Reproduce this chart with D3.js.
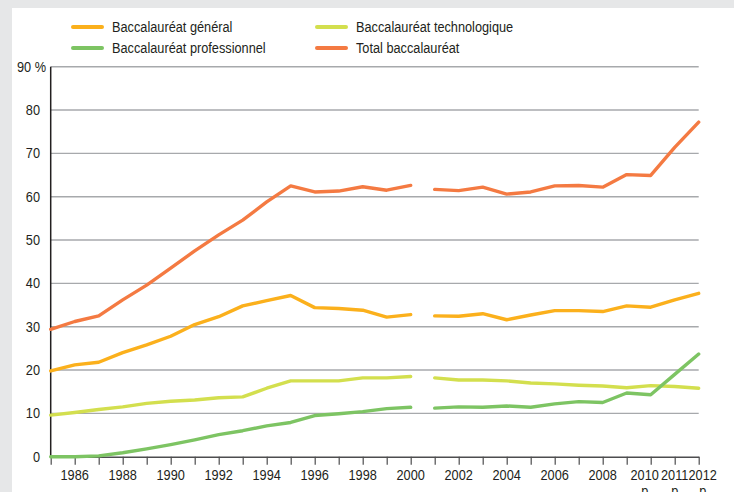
<!DOCTYPE html>
<html>
<head>
<meta charset="utf-8">
<script src="https://cdn.jsdelivr.net/npm/d3@7"></script>
<style>
  html, body { margin: 0; padding: 0; background: #e6e7e8; }
  svg { display: block; }
  text { font-family: 'Liberation Sans', Arial, sans-serif; font-size: 15px; fill: #231f20; }
</style>
</head>
<body>
<div id="chart"></div>
<script>
const years = d3.range(1985, 2013);
const breakAfter = 2000;

// taux d'accès au baccalauréat, en %
const general = [19.8, 21.2, 21.8, 24.0, 25.8, 27.8, 30.5, 32.3, 34.8, 36.0, 37.2, 34.4, 34.2, 33.8,
  32.2, 32.8, 32.5, 32.4, 33.0, 31.6, 32.7, 33.7, 33.7, 33.5, 34.8, 34.5, 36.2, 37.7];
const techno = [9.6, 10.2, 10.9, 11.5, 12.3, 12.8, 13.1, 13.6, 13.8, 15.8, 17.5, 17.5, 17.5, 18.2,
  18.2, 18.5, 18.2, 17.7, 17.7, 17.5, 17.0, 16.8, 16.5, 16.3, 15.9, 16.4, 16.2, 15.8];
const pro = [0.0, 0.0, 0.2, 0.9, 1.8, 2.8, 3.9, 5.1, 6.0, 7.1, 7.9, 9.5, 9.9, 10.4,
  11.1, 11.4, 11.2, 11.5, 11.4, 11.7, 11.4, 12.2, 12.7, 12.5, 14.7, 14.3, 19.0, 23.7];
const total = [29.4, 31.2, 32.5, 36.2, 39.6, 43.5, 47.5, 51.2, 54.6, 58.8, 62.5, 61.1, 61.3, 62.3,
  61.5, 62.6, 61.7, 61.4, 62.2, 60.6, 61.1, 62.5, 62.6, 62.2, 65.1, 64.9, 71.4, 77.2];

const yTicks = [0, 10, 20, 30, 40, 50, 60, 70, 80, 90];
const xLabels = [1986, 1988, 1990, 1992, 1994, 1996, 1998, 2000, 2002, 2004, 2006, 2008, 2010, 2011, 2012];
const provisional = [2010, 2011, 2012];

const series = [
  {name: 'Baccalauréat général', values: general, color: '#fbb01c'},
  {name: 'Baccalauréat technologique', values: techno, color: '#d3df4e'},
  {name: 'Baccalauréat professionnel', values: pro, color: '#7dc463'},
  {name: 'Total baccalauréat', values: total, color: '#f47a42'}
];

const width = 734;
const height = 492;
const narrow = 0.85; // the original uses a condensed face

let svg = d3.select('#chart').append('svg')
  .attr('width', width)
  .attr('height', height)

// white panel
svg.append('rect')
  .attr('x', 12)
  .attr('y', 8)
  .attr('width', width - 12)
  .attr('height', height - 8)
  .attr('fill', '#fff')

let x = d3.scaleLinear().domain([1985, 2012]).range([50.7, 698.7]);
let y = d3.scaleLinear().domain([0, 90]).range([456.7, 66.7]);

let place = (px, py) => `translate(${px},${py}) scale(${narrow},1)`;

// gridlines
svg.append('g').selectAll('line').data(yTicks.filter(d => d > 0))
  .enter().append('line')
    .attr('x1', x(1985))
    .attr('x2', x(2012))
    .attr('y1', d => y(d))
    .attr('y2', d => y(d))
    .attr('stroke', '#a7a9ac')
    .attr('stroke-width', 1.4)

// y labels
svg.append('g').selectAll('text').data(yTicks)
  .enter().append('text')
    .attr('transform', d => place(d === 90 ? 46 : 40, y(d) + 5))
    .attr('text-anchor', 'end')
    .text(d => d === 90 ? '90 %' : d)

// x axis
let xAxis = svg.append('g')
  .attr('transform', `translate(0,${y(0)})`)
  .call(d3.axisBottom(x).tickValues(years).tickSize(8).tickSizeOuter(0).tickFormat(''))

xAxis.select('.domain').attr('stroke', '#4d4d4f').attr('stroke-width', 1.4)
xAxis.selectAll('.tick line').attr('stroke', '#4d4d4f').attr('stroke-width', 1.2)

let nudge = d => d === 2010 ? -6 : d === 2012 ? 4 : 0;

svg.append('g').selectAll('text').data(xLabels)
  .enter().append('text')
    .attr('transform', d => place(x(d) + nudge(d), 480))
    .attr('text-anchor', 'middle')
    .text(d => d)

svg.append('g').selectAll('text').data(provisional)
  .enter().append('text')
    .attr('transform', d => place(x(d) + nudge(d), 496))
    .attr('text-anchor', 'middle')
    .text('p')

// y axis line
svg.append('line')
  .attr('x1', x(1985))
  .attr('x2', x(1985))
  .attr('y1', y(90))
  .attr('y2', y(0))
  .attr('stroke', '#231f20')
  .attr('stroke-width', 1.5)

// series lines, broken between 2000 and 2001
let line = d3.line()
  .x(d => x(d.year))
  .y(d => y(d.value))

let lines = svg.append('g')
series.forEach(s => {
  let points = years.map((year, i) => ({year: year, value: s.values[i]}));
  let parts = [points.filter(d => d.year <= breakAfter), points.filter(d => d.year > breakAfter)];
  lines.selectAll(null).data(parts)
    .enter().append('path')
      .attr('d', line)
      .attr('fill', 'none')
      .attr('stroke', s.color)
      .attr('stroke-width', 3.4)
      .attr('stroke-linejoin', 'round')
      .attr('stroke-linecap', 'round')
})

// legend
let legendPos = [[73, 27], [317, 27], [73, 48], [317, 48]];
let legend = svg.append('g').selectAll('g').data(series)
  .enter().append('g')
    .attr('transform', (d, i) => `translate(${legendPos[i][0]},${legendPos[i][1]})`)

legend.append('line')
  .attr('x1', 0)
  .attr('x2', 29)
  .attr('stroke', d => d.color)
  .attr('stroke-width', 4)
  .attr('stroke-linecap', 'round')

legend.append('text')
  .attr('transform', place(39, 4.5))
  .text(d => d.name)
</script>
</body>
</html>
